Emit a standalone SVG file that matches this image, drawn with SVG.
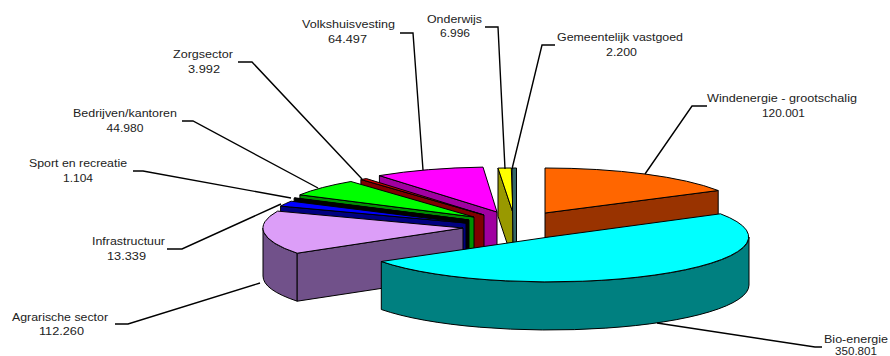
<svg xmlns="http://www.w3.org/2000/svg" width="890" height="356" viewBox="0 0 890 356">
<style>
.s{stroke:#000;stroke-width:1;stroke-linejoin:round}
.t{font-family:"Liberation Sans",Arial,sans-serif;font-size:10.5px;fill:#222;text-anchor:middle}
.l{fill:none;stroke:#000;stroke-width:1.4}
</style>
<rect width="890" height="356" fill="#fff"/>
<g id="volkshuisvesting">
<path class="s" fill="#a000a0" d="M497,212 L379.4,175.6 L379.4,223.6 L497,260 Z"/>
<path class="s" fill="#ff00ff" d="M497,212 L379.4,175.6 A200,45 0 0 1 483,167.1 Z"/>
<text class="t" x="348.5" y="28.3" textLength="93" lengthAdjust="spacingAndGlyphs">Volkshuisvesting</text>
<text class="t" x="347.5" y="42.7" textLength="39" lengthAdjust="spacingAndGlyphs">64.497</text>
</g>
<g id="zorgsector">
<path class="s" fill="#800000" d="M484,215 L360.9,179.5 L360.9,227.5 L484,263 Z"/>
<path class="s" fill="#cc0000" d="M484,215 L360.9,179.5 A200,45 0 0 1 366.4,178.6 Z"/>
<text class="t" x="203" y="57.5" textLength="60" lengthAdjust="spacingAndGlyphs">Zorgsector</text>
<text class="t" x="204" y="73" textLength="32" lengthAdjust="spacingAndGlyphs">3.992</text>
</g>
<g id="bedrijven">
<path class="s" fill="#009000" d="M474,217 L299.9,194.8 L299.9,242.8 L474,265 Z"/>
<path class="s" fill="#00ff00" d="M474,217 L299.9,194.8 A200,45 0 0 1 350.9,181.5 Z"/>
<text class="t" x="125" y="116.5" textLength="104" lengthAdjust="spacingAndGlyphs">Bedrijven/kantoren</text>
<text class="t" x="125" y="131.5" textLength="37" lengthAdjust="spacingAndGlyphs">44.980</text>
</g>
<g id="sport">
<path class="s" fill="#000000" d="M469,220 L294.1,198.2 L294.1,246.2 L469,268 Z"/>
<path class="s" fill="#000033" d="M469,220 L294.1,198.2 A200,45 0 0 1 294.9,197.8 Z"/>
<text class="t" x="78" y="167" textLength="98" lengthAdjust="spacingAndGlyphs">Sport en recreatie</text>
<text class="t" x="78" y="181.5" textLength="30" lengthAdjust="spacingAndGlyphs">1.104</text>
</g>
<g id="infrastructuur">
<path class="s" fill="#000080" d="M466,223 L280.6,206.1 L280.6,254.1 L466,271 Z"/>
<path class="s" fill="#0000ff" d="M466,223 L280.6,206.1 A200,45 0 0 1 291.1,201.2 Z"/>
<text class="t" x="128.5" y="245" textLength="73" lengthAdjust="spacingAndGlyphs">Infrastructuur</text>
<text class="t" x="126.5" y="260" textLength="39" lengthAdjust="spacingAndGlyphs">13.339</text>
</g>
<g id="agrarisch">
<path class="s" fill="#71518a" d="M297.2,253.2 A200,45 0 0 1 263,228 L263,276 A200,45 0 0 0 297.2,301.2 Z"/>
<path class="s" fill="#71518a" d="M463,228 L297.2,253.2 L297.2,301.2 L463,276 Z"/>
<path class="s" fill="#dc9ef8" d="M463,228 L297.2,253.2 A200,45 0 0 1 277.6,211.1 Z"/>
<text class="t" x="60" y="320.5" textLength="96" lengthAdjust="spacingAndGlyphs">Agrarische sector</text>
<text class="t" x="61.5" y="335" textLength="45" lengthAdjust="spacingAndGlyphs">112.260</text>
</g>
<g id="onderwijs">
<path class="s" fill="#999900" d="M513,213 L498,168.1 L498,216.1 L513,261 Z"/>
<path class="s" fill="#ffff00" d="M513,213 L498,168.1 A200,45 0 0 1 511.3,168 Z"/>
<text class="t" x="454.5" y="22.5" textLength="55" lengthAdjust="spacingAndGlyphs">Onderwijs</text>
<text class="t" x="455" y="37" textLength="30" lengthAdjust="spacingAndGlyphs">6.996</text>
</g>
<g id="gemeentelijk">
<path class="s" fill="#336666" d="M512,168 L516.5,168 L516.5,243 L513,243 Z"/>
<text class="t" x="620" y="40.5" textLength="126" lengthAdjust="spacingAndGlyphs">Gemeentelijk vastgoed</text>
<text class="t" x="621.5" y="56" textLength="31" lengthAdjust="spacingAndGlyphs">2.200</text>
</g>
<g id="windenergie">
<path class="s" fill="#993300" d="M545,213 L718.2,190.5 L718.2,238.5 L545,261 Z"/>
<path class="s" fill="#ff6600" d="M545,213 L545,168 A200,45 0 0 1 718.2,190.5 Z"/>
<text class="t" x="782" y="101.5" textLength="150" lengthAdjust="spacingAndGlyphs">Windenergie - grootschalig</text>
<text class="t" x="783.5" y="116.5" textLength="43" lengthAdjust="spacingAndGlyphs">120.001</text>
</g>
<g id="bio-energie">
<path class="s" fill="#008080" d="M749,237 A200,45 0 0 1 381.3,261.5 L381.3,309.5 A200,45 0 0 0 749,285 Z"/>
<path class="s" fill="#00ffff" d="M549,237 L720.4,213.8 A200,45 0 0 1 381.3,261.5 Z"/>
<text class="t" x="856" y="342.5" textLength="64" lengthAdjust="spacingAndGlyphs">Bio-energie</text>
<text class="t" x="856" y="355" textLength="42" lengthAdjust="spacingAndGlyphs">350.801</text>
</g>
<g id="connectors">
<polyline class="l" points="400,33 413,33 423,170"/>
<polyline class="l" points="238,62 252,62 362,179"/>
<polyline class="l" points="182,121 193,121 318,188"/>
<polyline class="l" points="133,171 143,171 291,198"/>
<polyline class="l" points="167,249 182,249 281,204"/>
<polyline class="l" points="115,324 128,324 260,283"/>
<polyline class="l" points="485,27 498,27 505,169"/>
<polyline class="l" points="555,45 542,45 512,169"/>
<polyline class="l" points="707,106 692,106 645,174"/>
<polyline class="l" points="657,323 815,347 822,347"/>
</g>
</svg>
